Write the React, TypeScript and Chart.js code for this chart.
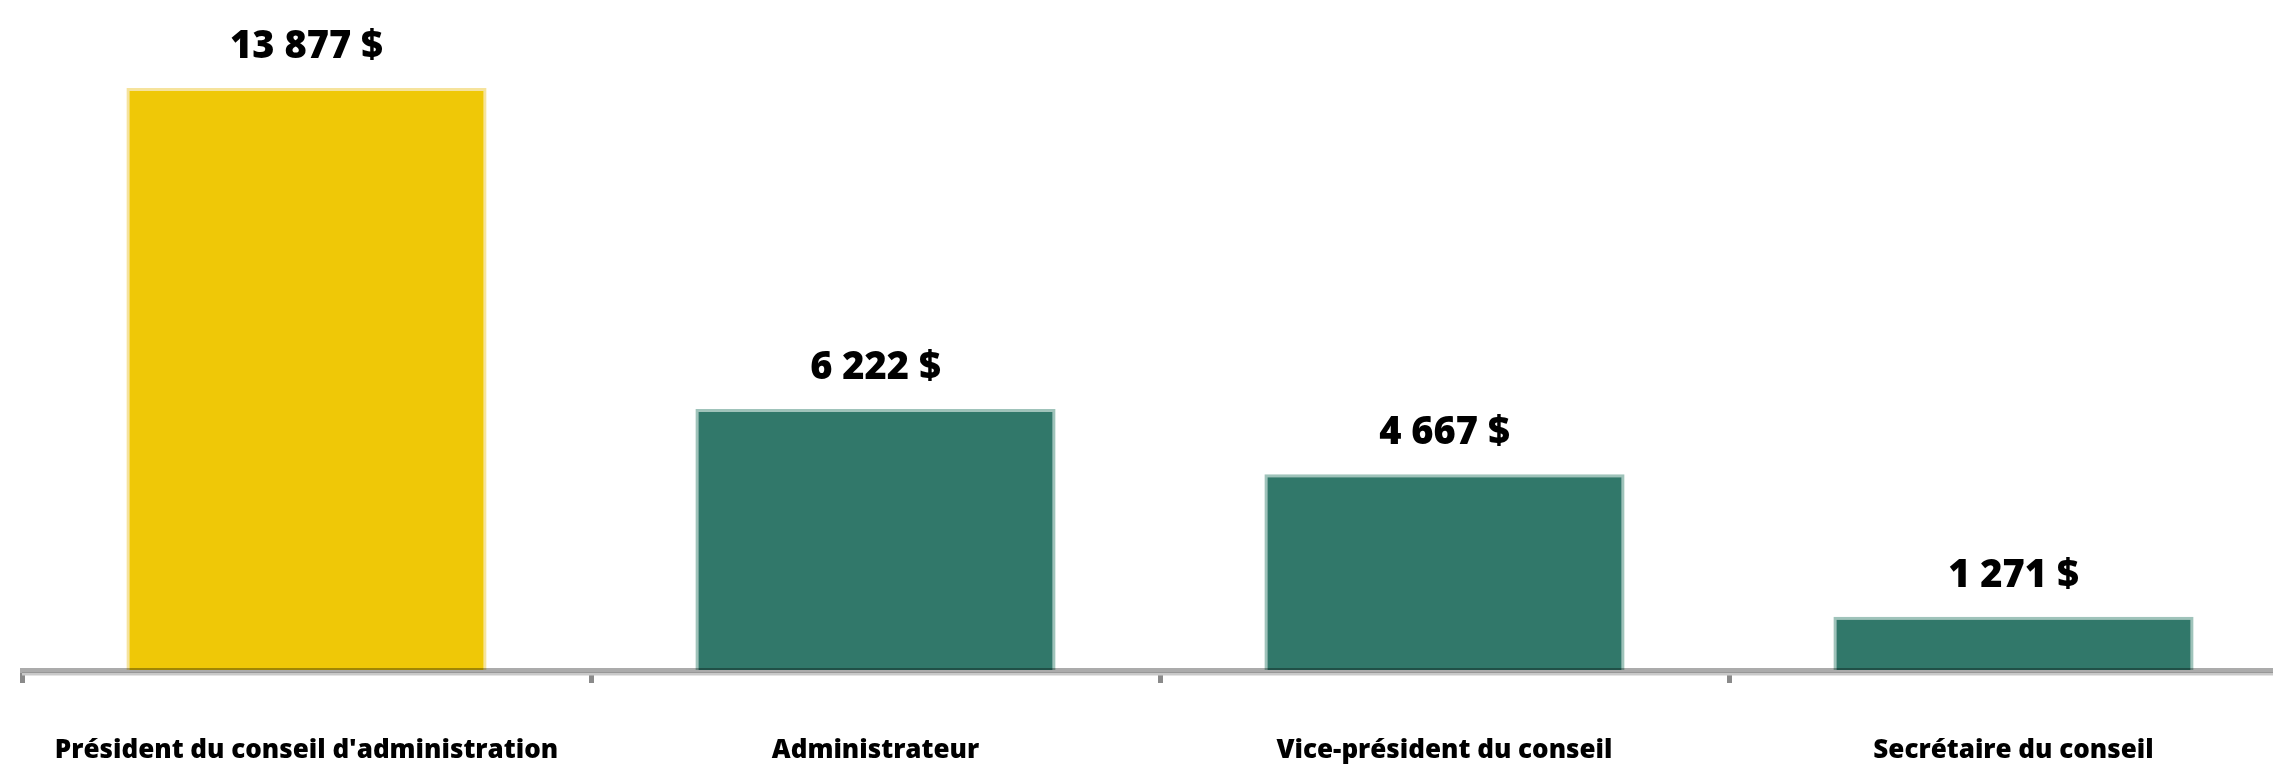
import React, { useEffect, useRef } from "react";
import { Chart, registerables } from "chart.js";

Chart.register(...registerables);

const categories: string[] = [
  "Président du conseil d'administration",
  "Administrateur",
  "Vice-président du conseil",
  "Secrétaire du conseil",
];
const amounts: number[] = [13877, 6222, 4667, 1271];
const barColors: string[] = ["#efc807", "#31786a", "#31786a", "#31786a"];
const barBorderColors: string[] = ["#f6e39c", "#9fc3ba", "#9fc3ba", "#9fc3ba"];
const yMin = 0;
const yMax = 15000;

const FONT = "'Open Sans', 'Noto Sans', sans-serif";

function formatAmount(v: number): string {
  const s = Math.round(v).toString();
  return s.replace(/\B(?=(\d{3})+(?!\d))/g, " ") + " $";
}

const valueLabelPlugin = {
  id: "valueLabels",
  afterDatasetsDraw(chart: any) {
    const ctx = chart.ctx;
    const meta = chart.getDatasetMeta(0);
    ctx.save();
    ctx.font = `800 38px ${FONT}`;
    ctx.fillStyle = "#000000";
    ctx.textAlign = "center";
    ctx.textBaseline = "alphabetic";
    meta.data.forEach((el: any, i: number) => {
      ctx.fillText(formatAmount(amounts[i]), el.x, el.y - 30);
    });
    ctx.restore();
  },
};

const axisShadowPlugin = {
  id: "axisShadow",
  afterDatasetsDraw(chart: any) {
    const x = chart.scales.x;
    const ctx = chart.ctx;
    ctx.save();
    ctx.fillStyle = "#c9c9c9";
    ctx.fillRect(x.left, x.top + 2.5, chart.width - x.left, 3);
    ctx.restore();
  },
};

export default function App() {
  const canvasRef = useRef<HTMLCanvasElement | null>(null);

  useEffect(() => {
    if (!canvasRef.current) return;
    const chart = new Chart(canvasRef.current, {
      type: "bar",
      data: {
        labels: categories,
        datasets: [
          {
            data: amounts,
            backgroundColor: barColors,
            borderColor: barBorderColors,
            borderWidth: 3,
            borderSkipped: "start",
            categoryPercentage: 1,
            barPercentage: 0.633,
          },
        ],
      },
      options: {
        animation: false,
        responsive: true,
        maintainAspectRatio: false,
        layout: { padding: { left: 22, right: 0, top: 41, bottom: 0 } },
        plugins: {
          legend: { display: false },
          tooltip: { enabled: false },
        },
        scales: {
          x: {
            offset: true,
            grid: {
              display: true,
              offset: true,
              drawOnChartArea: false,
              drawTicks: true,
              tickLength: 13,
              tickWidth: 5,
              tickColor: "#8a8a8a",
            },
            border: {
              display: true,
              color: "rgba(0,0,0,0.33)",
              width: 5,
              z: 1,
            },
            ticks: {
              color: "#000000",
              padding: 52,
              maxRotation: 0,
              autoSkip: false,
              font: { family: FONT, size: 26, weight: "800" as any },
            },
            afterFit: (scale: any) => {
              scale.height = 98;
              scale.paddingLeft = 0;
              scale.paddingRight = 0;
            },
          },
          y: {
            display: false,
            min: yMin,
            max: yMax,
          },
        },
      },
      plugins: [axisShadowPlugin, valueLabelPlugin],
    });
    return () => chart.destroy();
  }, []);

  return (
    <div
      style={{
        position: "fixed",
        left: 0,
        top: 0,
        width: "2273px",
        height: "768px",
        overflow: "hidden",
        background: "#ffffff",
      }}
    >
      <div style={{ position: "relative", width: "2298px", height: "768px" }}>
        <canvas ref={canvasRef} />
      </div>
    </div>
  );
}
